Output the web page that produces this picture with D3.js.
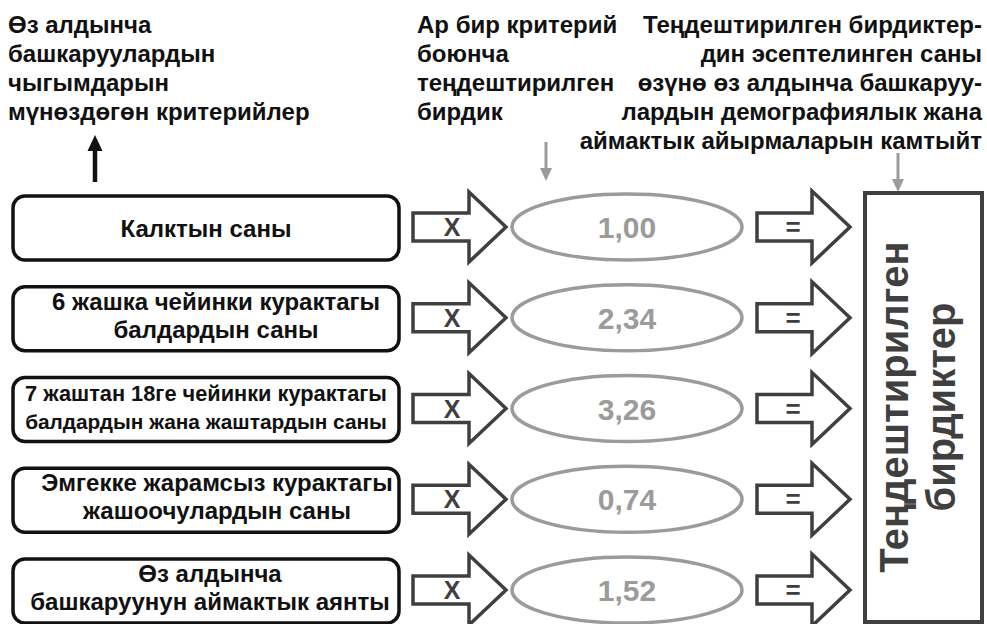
<!DOCTYPE html>
<html>
<head>
<meta charset="utf-8">
<script src="https://cdn.jsdelivr.net/npm/d3@7"></script>
<style>
  html, body { margin: 0; padding: 0; background: #fff; }
  svg { display: block; }
  text { font-family: "Liberation Sans", Arial, sans-serif; font-weight: bold; }
</style>
</head>
<body>
<svg id="chart" width="987" height="624"></svg>
<script>
// ---------------- data ----------------
const headerCriteria = ["Өз алдынча", "башкаруулардын", "чыгымдарын", "мүнөздөгөн критерийлер"];
const headerCoefficient = ["Ар бир критерий", "боюнча", "теңдештирилген", "бирдик"];
const headerResult = ["Теңдештирилген бирдиктер-", "дин эсептелинген саны", "өзүнө өз алдынча башкаруу-", "лардын демографиялык жана", "аймактык айырмаларын камтыйт"];
const criteria = [
  ["Калктын саны"],
  ["6 жашка чейинки курактагы", "балдардын саны"],
  ["7 жаштан 18ге чейинки курактагы", "балдардын жана жаштардын саны"],
  ["Эмгекке жарамсыз курактагы", "жашоочулардын саны"],
  ["Өз алдынча", "башкаруунун аймактык аянты"]
];
const coefficients = [1.00, 2.34, 3.26, 0.74, 1.52];
const operators = ["X", "="];
const resultLabel = ["Теңдештирилген", "бирдиктер"];

// ---------------- layout ----------------
const svg = d3.select("#chart");
const fmt = d3.formatLocale({decimal: ",", thousands: " ", grouping: [3], currency: ["", ""]}).format(".2f");

const rows = d3.range(criteria.length);
const y = d3.scalePoint().domain(rows).range([227, 590]);
const dark = "#3f3f3f", grey = "#9b9b9b";
const labelShift = [0, 10, 0, 11, 4];
const FS = 24;

// headers
function header(lines, x, anchor) {
  svg.append("g").selectAll("text").data(lines).join("text")
    .attr("x", x).attr("y", (d, i) => 33 + i * 29)
    .attr("text-anchor", anchor).attr("font-size", FS).attr("fill", "#111")
    .text(d => d);
}
header(headerCriteria, 8, "start");
header(headerCoefficient, 417, "start");
header(headerResult, 982, "end");

// pointer arrows
function vArrow(x, y0, y1, color, w, hw, hl) {
  const g = svg.append("g");
  g.append("line").attr("x1", x).attr("x2", x).attr("y1", y0)
    .attr("y2", y1 < y0 ? y1 + hl - 1 : y1 - hl + 1)
    .attr("stroke", color).attr("stroke-width", w);
  const dir = y1 < y0 ? 1 : -1;
  g.append("path").attr("d", d3.line()([[x - hw, y1 + dir * hl], [x + hw, y1 + dir * hl], [x, y1]]) + "Z")
    .attr("fill", color);
}
vArrow(95, 182, 135, "#111", 4.5, 7.5, 16);
vArrow(546, 142, 181, grey, 3, 6, 13);
vArrow(898, 153, 192, grey, 3, 6, 13);

// criterion boxes
const boxX = 13, boxW = 386, boxH = 64, maxTextW = 362;
const crit = svg.append("g").selectAll("g").data(criteria).join("g")
  .attr("transform", (d, i) => `translate(0,${y(i) + 1})`);
crit.append("rect")
  .attr("x", boxX).attr("y", -boxH / 2).attr("width", boxW).attr("height", boxH)
  .attr("rx", 12).attr("fill", "#fff").attr("stroke", "#111").attr("stroke-width", 3.5);
crit.each(function(lines, i) {
  const g = d3.select(this);
  const n = lines.length;
  g.selectAll("text").data(lines).join("text")
    .attr("x", boxX + boxW / 2 + labelShift[i])
    .attr("y", (d, j) => n === 1 ? 9 : (j === 0 ? -9 : 19))
    .attr("text-anchor", "middle").attr("font-size", FS).attr("fill", "#111")
    .text(d => d)
    .each(function() {
      const len = this.getComputedTextLength();
      if (len > maxTextW) d3.select(this).attr("font-size", FS * maxTextW / len);
    });
});

// block arrows
function blockArrow(x0, xh, xt, cy, bh, hh) {
  return d3.line()([[x0, cy - bh], [xh, cy - bh], [xh, cy - hh], [xt, cy], [xh, cy + hh], [xh, cy + bh], [x0, cy + bh]]) + "Z";
}
const arrowsX = svg.append("g").selectAll("g").data(rows).join("g");
arrowsX.append("path").attr("d", i => blockArrow(413, 469, 506, y(i), 14, 35))
  .attr("fill", "#fff").attr("stroke", dark).attr("stroke-width", 3.5).attr("stroke-linejoin", "miter");
arrowsX.append("text").attr("x", 452).attr("y", i => y(i) + 9)
  .attr("text-anchor", "middle").attr("font-size", 25).attr("fill", dark).text(operators[0]);

// coefficient ellipses
const ell = svg.append("g").selectAll("g").data(coefficients).join("g")
  .attr("transform", (d, i) => `translate(627,${y(i)})`);
ell.append("ellipse").attr("rx", 115).attr("ry", 33)
  .attr("fill", "#fff").attr("stroke", grey).attr("stroke-width", 3.5);
ell.append("text").attr("y", 11).attr("text-anchor", "middle")
  .attr("font-size", 30).attr("fill", grey).text(d => fmt(d));

// equals arrows
const arrowsEq = svg.append("g").selectAll("g").data(rows).join("g");
arrowsEq.append("path").attr("d", i => blockArrow(757, 812, 850, y(i), 14, 36))
  .attr("fill", "#fff").attr("stroke", dark).attr("stroke-width", 3.5).attr("stroke-linejoin", "miter");
arrowsEq.append("text").attr("x", 793).attr("y", i => y(i) + 9)
  .attr("text-anchor", "middle").attr("font-size", 26).attr("fill", dark).text(operators[1]);

// result box
svg.append("rect").attr("x", 865).attr("y", 193).attr("width", 117).attr("height", 429)
  .attr("fill", "#fff").attr("stroke", dark).attr("stroke-width", 4);
svg.append("g").selectAll("text").data(resultLabel).join("text")
  .attr("transform", (d, i) => `translate(${908 + i * 47},407) rotate(-90)`)
  .attr("text-anchor", "middle").attr("font-size", 40).attr("fill", dark)
  .text(d => d);
</script>
</body>
</html>
